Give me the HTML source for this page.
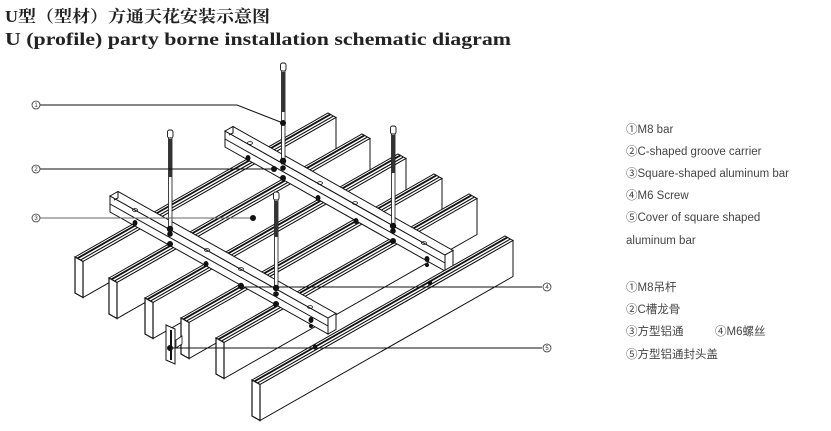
<!DOCTYPE html>
<html><head><meta charset="utf-8"><style>
html,body{margin:0;padding:0;background:#fff;}
svg{display:block;}
.t{font-family:"Liberation Sans","Noto Sans CJK SC",sans-serif;font-size:11.5px;fill:#444;}
</style></head><body>
<svg width="831" height="431" viewBox="0 0 831 431" xmlns="http://www.w3.org/2000/svg">
<text x="5" y="22" font-family="'Liberation Serif','Noto Serif CJK SC',serif" font-weight="bold" font-size="16.5" fill="#222" textLength="265" lengthAdjust="spacingAndGlyphs">U型（型材）方通天花安装示意图</text>
<text x="5" y="45" font-family="'Liberation Serif',serif" font-weight="bold" font-size="17.5" fill="#222" textLength="506" lengthAdjust="spacingAndGlyphs">U (profile) party borne installation schematic diagram</text>

<defs>
<g id="bar">
  <polygon points="0,0 253,-144 261,-139.5 8,4.5" fill="#fff" stroke="#111" stroke-width="1"/>
  <polygon points="8,4.5 261,-139.5 261,-103.5 8,40.5" fill="#fff" stroke="#111" stroke-width="1"/>
  <polygon points="0,0 8,4.5 8,40.5 0,36" fill="#fff" stroke="#111" stroke-width="1.2"/>
  <line x1="2.5" y1="1.3" x2="255.5" y2="-142.7" stroke="#111" stroke-width="1.8"/>
  <line x1="5.5" y1="3" x2="258.5" y2="-141" stroke="#111" stroke-width="1.1"/>
</g>
</defs>
<use href="#bar" x="75" y="257"/>
<use href="#bar" x="109" y="278"/>
<use href="#bar" x="145" y="298"/>
<use href="#bar" x="181" y="318"/>
<use href="#bar" x="216" y="338"/>

<!-- carrier A -->
<g stroke="#111" stroke-width="1" fill="#fff">
<polygon points="225,131 445,255 445,271 225,147"/>
<polygon points="225,131 233,126.5 453,250.5 445,255"/>
<polygon points="445,255 453,250.5 453,266.5 445,271"/>
<line x1="225" y1="139" x2="445" y2="263"/>
<polyline points="233,126.5 233,133 229,135" fill="none"/>
</g>
<!-- carrier B -->
<g stroke="#111" stroke-width="1" fill="#fff">
<polygon points="110,196 328,318 328,334 110,212"/>
<polygon points="110,196 118,191.5 336,313.5 328,318"/>
<polygon points="328,318 336,313.5 336,329.5 328,334"/>
<line x1="110" y1="204" x2="328" y2="326"/>
<polyline points="118,191.5 118,198 114,200" fill="none"/>
</g>
<!-- holes & bolts -->
<g fill="none" stroke="#111" stroke-width="0.8">
<ellipse cx="250" cy="143" rx="2.5" ry="1.4"/><ellipse cx="320" cy="183" rx="2.5" ry="1.4"/><ellipse cx="355" cy="203" rx="2.5" ry="1.4"/><ellipse cx="424" cy="243" rx="2.5" ry="1.4"/>
<ellipse cx="135" cy="210" rx="2.5" ry="1.4"/><ellipse cx="207" cy="250" rx="2.5" ry="1.4"/><ellipse cx="241" cy="269" rx="2.5" ry="1.4"/><ellipse cx="310" cy="307" rx="2.5" ry="1.4"/>
</g>
<g fill="#111">
<ellipse cx="248" cy="158" rx="2.5" ry="3"/><ellipse cx="318" cy="198" rx="2.5" ry="3"/><ellipse cx="356" cy="221" rx="2.5" ry="3"/><ellipse cx="427" cy="259" rx="2.5" ry="3"/><ellipse cx="427" cy="265" rx="2" ry="2"/>
<ellipse cx="135" cy="223" rx="2.5" ry="3"/><ellipse cx="206" cy="264" rx="2.5" ry="3"/><ellipse cx="241" cy="286" rx="3" ry="3.2"/><ellipse cx="311" cy="320" rx="2.5" ry="3"/><ellipse cx="311" cy="326" rx="2" ry="2"/>
</g>

<!-- rods -->
<g id="rods">
<g>
<rect x="281.5" y="68" width="3.5" height="96" fill="#fff" stroke="#111" stroke-width="0.8"/>
<rect x="281.5" y="72" width="3.5" height="40" fill="#333"/>
<rect x="280.5" y="63" width="5.5" height="8" rx="2" fill="#fff" stroke="#111" stroke-width="0.9"/>
<circle cx="283" cy="123" r="3" fill="#111"/><circle cx="283" cy="161" r="3.2" fill="#111"/><circle cx="283" cy="168" r="2.8" fill="#111"/><circle cx="283" cy="178" r="3" fill="#111"/>
</g>
<g>
<rect x="168.5" y="135" width="3.5" height="96" fill="#fff" stroke="#111" stroke-width="0.8"/>
<rect x="168.5" y="139" width="3.5" height="38" fill="#333"/>
<rect x="167.5" y="130" width="5.5" height="8" rx="2" fill="#fff" stroke="#111" stroke-width="0.9"/>
<circle cx="170" cy="229" r="3.2" fill="#111"/><circle cx="170" cy="234" r="2.8" fill="#111"/><circle cx="170" cy="244" r="3" fill="#111"/>
</g>
<g>
<rect x="274.5" y="197" width="3.5" height="92" fill="#fff" stroke="#111" stroke-width="0.8"/>
<rect x="274.5" y="201" width="3.5" height="36" fill="#333"/>
<rect x="273.5" y="192" width="5.5" height="8" rx="2" fill="#fff" stroke="#111" stroke-width="0.9"/>
<circle cx="276" cy="288" r="3.2" fill="#111"/><circle cx="276" cy="294" r="2.8" fill="#111"/><circle cx="276" cy="304" r="3" fill="#111"/>
</g>
<g>
<rect x="391.5" y="131" width="3.5" height="95" fill="#fff" stroke="#111" stroke-width="0.8"/>
<rect x="391.5" y="135" width="3.5" height="38" fill="#333"/>
<rect x="390.5" y="126" width="5.5" height="8" rx="2" fill="#fff" stroke="#111" stroke-width="0.9"/>
<circle cx="393" cy="226" r="3.2" fill="#111"/><circle cx="393" cy="231" r="2.8" fill="#111"/><circle cx="393" cy="241" r="3" fill="#111"/>
</g>
</g>

<use href="#bar" x="252" y="380"/>
<g fill="#111"><ellipse cx="430" cy="283" rx="2.2" ry="2.6"/><ellipse cx="315" cy="347" rx="2.2" ry="2.6"/></g>

<!-- end cap -->
<g stroke="#111" stroke-width="1">
<polygon points="166,325 175,329 175,364 166,360" fill="#fff"/>
<line x1="171" y1="330" x2="171" y2="360" stroke-width="2"/>
<polygon points="176,340 182,336 182,344 176,348" fill="#fff" stroke-width="0.8"/>
</g>
<circle cx="170" cy="348" r="3" fill="#111"/>

<!-- leaders -->
<g stroke="#111" stroke-width="1" fill="none">
<polyline points="40,105 237,105 283,123"/>
<line x1="40" y1="169" x2="274" y2="169"/>
<line x1="40" y1="218" x2="253" y2="218" stroke="#666"/>
<line x1="242" y1="287" x2="542" y2="287"/>
<line x1="170" y1="348" x2="542" y2="348"/>
</g>
<circle cx="274" cy="169" r="3" fill="#111"/>
<circle cx="253" cy="218" r="3" fill="#111"/>
<g fill="#fff" stroke="#333" stroke-width="0.8">
<circle cx="36" cy="105" r="4"/><circle cx="36" cy="169" r="4"/><circle cx="36" cy="218" r="4"/>
<circle cx="547" cy="287" r="4"/><circle cx="547" cy="348" r="4"/>
</g>
<g font-family="'Liberation Sans',sans-serif" font-size="6" fill="#333" text-anchor="middle">
<text x="36" y="107.2">1</text><text x="36" y="171.2">2</text><text x="36" y="220.2">3</text>
<text x="547" y="289.2">4</text><text x="547" y="350.2">5</text>
</g>

<!-- legend -->
<text class="t" x="626" y="133">①M8 bar</text>
<text class="t" x="626" y="155">②C-shaped groove carrier</text>
<text class="t" x="626" y="177">③Square-shaped aluminum bar</text>
<text class="t" x="626" y="199">④M6 Screw</text>
<text class="t" x="626" y="221">⑤Cover of square shaped</text>
<text class="t" x="626" y="244">aluminum bar</text>
<text class="t" x="626" y="291">①M8吊杆</text>
<text class="t" x="626" y="313">②C槽龙骨</text>
<text class="t" x="626" y="335">③方型铝通</text>
<text class="t" x="715" y="335">④M6螺丝</text>
<text class="t" x="626" y="358">⑤方型铝通封头盖</text>
</svg>
</body></html>
